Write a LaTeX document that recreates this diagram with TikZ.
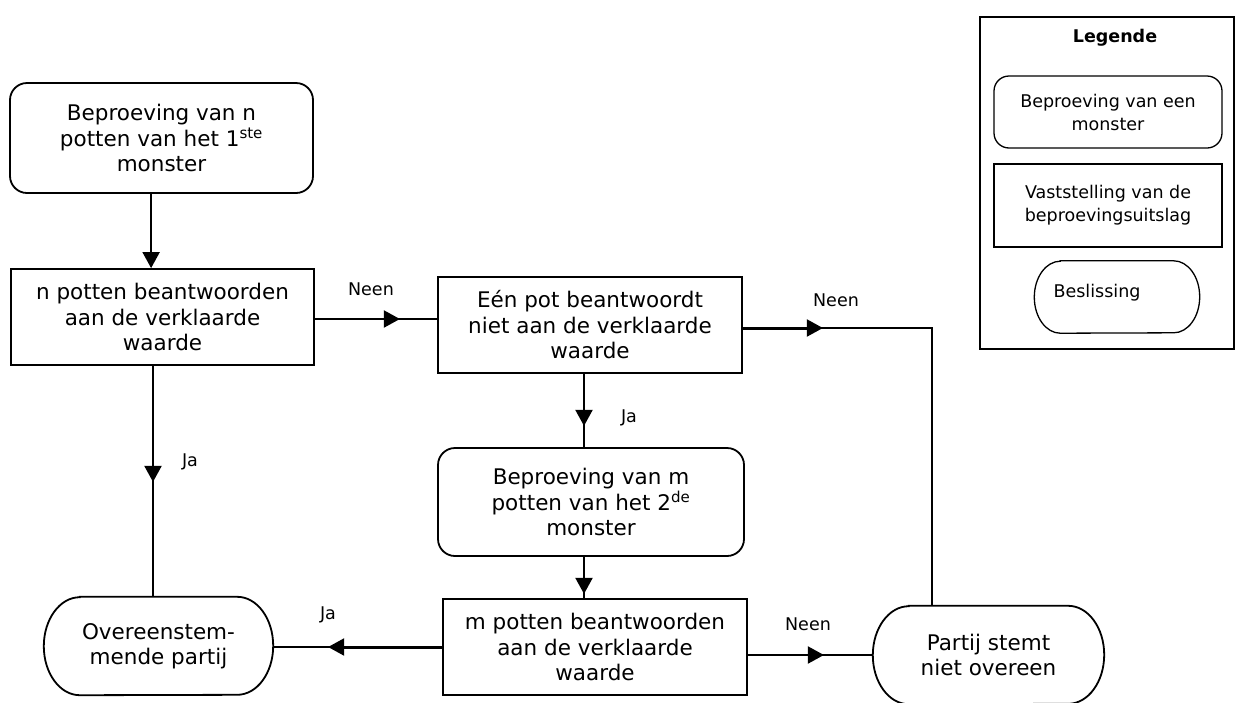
\documentclass[tikz,border=0pt]{standalone}
\usepackage{fontspec}
\setmainfont{DejaVu Sans}
\usetikzlibrary{arrows.meta,decorations.markings}
\newcommand\mainf{\fontsize{21.5}{25.5}\selectfont}
\newcommand\labf{\fontsize{17.5}{21}\selectfont}
\newcommand\legf{\fontsize{17.5}{23}\selectfont}
\newcommand\termline[4]{\draw[line width=#4] ([xshift=#2pt]#1.north west) -- ([xshift=-#2pt]#1.north east) arc[start angle=90,end angle=-90,x radius=#2pt,y radius=#3pt] -- ([xshift=#2pt]#1.south west) arc[start angle=270,end angle=90,x radius=#2pt,y radius=#3pt] -- cycle;}
\begin{document}
\begin{tikzpicture}[x=1pt,y=-1pt,
  box/.style={draw, line width=1.8pt, inner sep=0pt, align=center, font=\mainf},
  rbox/.style={box, rounded corners=17pt},
  term/.style={inner sep=0pt, align=center, font=\mainf},
  lbl/.style={inner sep=0pt, font=\labf},
  conn/.style={line width=2pt},
  tipA/.tip={Triangle[length=16pt 0 0,width=17pt 0 0]},
  midarrow/.style={postaction={decorate,decoration={markings,mark=at position #1 with {\arrow{tipA}}}}},
  lbox/.style={draw, line width=1.3pt, inner sep=0pt, align=center, font=\legf}
]
\useasboundingbox (0,0) rectangle (1250,702);

% main nodes
\node[rbox, minimum width=303pt, minimum height=110pt] (b1) at (161.5,138) {Beproeving van n\\potten van het 1\textsuperscript{ste}\\monster};
\node[box, minimum width=303pt, minimum height=96pt] (b2) at (162.5,317) {n potten beantwoorden\\aan de verklaarde\\waarde};
\node[box, minimum width=304pt, minimum height=96pt] (b3) at (590,325) {Eén pot beantwoordt\\niet aan de verklaarde\\waarde};
\node[rbox, minimum width=306pt, minimum height=108pt] (b4) at (591,502) {Beproeving van m\\potten van het 2\textsuperscript{de}\\monster};
\node[box, minimum width=304pt, minimum height=96pt] (b5) at (595,647) {m potten beantwoorden\\aan de verklaarde\\waarde};
\node[term, minimum width=229pt, minimum height=98pt] (over) at (158.5,646) {Overeenstem-\\mende partij};
\termline{over}{36}{49}{1.8pt}
\node[term, minimum width=231pt, minimum height=98pt] (partij) at (988.5,655) {Partij stemt\\niet overeen};
\termline{partij}{36}{49}{1.8pt}

% connectors
\coordinate (c1) at (932,328);
\draw[conn,-{tipA}] ([xshift=142pt]b1.south west) -- ([xshift=141pt]b2.north west);
\draw[conn,midarrow=85pt] ([yshift=-2pt]b2.east) -- ([yshift=-2pt]b2.east -| b3.west);
\draw[conn,midarrow=80pt] (b3.east |- c1) -- (c1) -- (c1 |- partij.north);
\draw[line width=3pt] (b3.east |- c1) -- ++(68,0);
\draw[conn,midarrow=52pt] ([xshift=-6pt]b3.south) -- ([xshift=-6pt]b3.south |- b4.north);
\draw[conn,midarrow=37pt] ([xshift=-7pt]b4.south) -- ([xshift=-7pt]b4.south |- b5.north);
\draw[conn,midarrow=114pt] (b5.west) -- (b5.west -| over.east);
\draw[line width=3pt] (b5.west) -- ++(-100,0);
\draw[conn,midarrow=76pt] (b5.east |- partij.west) -- (partij.west);
\draw[conn,midarrow=116pt] ([xshift=-9.5pt]b2.south) -- ([xshift=-9.5pt]b2.south |- over.north);

% labels
\node[lbl] (l1) at (371,289) {Neen};
\node[lbl] (l2) at (836,300) {Neen};
\node[lbl] (l3) at (629,418) {Ja};
\node[lbl] (l4) at (190,462) {Ja};
\node[lbl] (l5) at (328,615) {Ja};
\node[lbl] (l6) at (808,624) {Neen};

% legend
\node[draw, line width=1.6pt, minimum width=254pt, minimum height=332pt, inner sep=0pt] (leg) at (1107,183) {};
\node[inner sep=0pt, font=\legf\bfseries] (legt) at (1115,38) {Legende};
\node[lbox, rounded corners=15pt, minimum width=228pt, minimum height=72pt] (lg1) at (1108,112) {Beproeving van een\\monster};
\node[lbox, minimum width=228pt, minimum height=83pt] (lg2) at (1108,205.5) {\raisebox{4pt}{\begin{tabular}{@{}c@{}}Vaststelling van de\\beproevingsuitslag\end{tabular}}};
\node[inner sep=0pt, minimum width=165pt, minimum height=72pt] (lg3) at (1117,297) {};
\termline{lg3}{26}{36}{1.3pt}
\node[inner sep=0pt, font=\legf] (lg3t) at (1097,293) {Beslissing};
\end{tikzpicture}
\end{document}
